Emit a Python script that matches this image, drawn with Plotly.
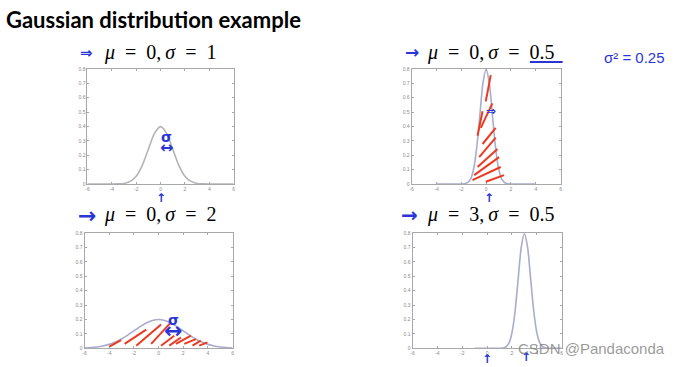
import plotly.graph_objects as go

W, H = 681, 367

# ---------------- data ----------------
x_p1 = [-6, -5.5, -5, -4.5, -4, -3.5, -3, -2.5, -2, -1.5, -1, -0.5, 0,
        0.5, 1, 1.5, 2, 2.5, 3, 3.5, 4, 4.5, 5, 5.5, 6]
y_p1 = [0, 0, 0, 0, 0.0001, 0.0009, 0.004, 0.018, 0.054, 0.13, 0.242, 0.352, 0.399,
        0.352, 0.242, 0.13, 0.054, 0.018, 0.004, 0.0009, 0.0001, 0, 0, 0, 0]

x_p2 = [-4, -3, -2.5, -2, -1.75, -1.5, -1.25, -1, -0.75, -0.5, -0.25, 0,
        0.25, 0.5, 0.75, 1, 1.25, 1.5, 1.75, 2, 2.5, 3, 4]
y_p2 = [0, 0, 0, 0.0001, 0.0018, 0.0089, 0.035, 0.108, 0.259, 0.484, 0.704, 0.798,
        0.704, 0.484, 0.259, 0.108, 0.035, 0.0089, 0.0018, 0.0001, 0, 0, 0]

x_p3 = [-6, -5.5, -5, -4.5, -4, -3.5, -3, -2.5, -2, -1.5, -1, -0.5, 0,
        0.5, 1, 1.5, 2, 2.5, 3, 3.5, 4, 4.5, 5, 5.5, 6]
y_p3 = [0.0022, 0.0045, 0.0088, 0.0159, 0.027, 0.043, 0.0648, 0.0913, 0.121, 0.1506, 0.176, 0.1933, 0.1995,
        0.1933, 0.176, 0.1506, 0.121, 0.0913, 0.0648, 0.043, 0.027, 0.0159, 0.0088, 0.0045, 0.0022]

x_p4 = [-1, 0, 0.5, 1, 1.25, 1.5, 1.75, 2, 2.25, 2.5, 2.75, 3,
        3.25, 3.5, 3.75, 4, 4.25, 4.5, 4.75, 5, 5.5, 6, 7]
y_p4 = [0, 0, 0, 0.0001, 0.0018, 0.0089, 0.035, 0.108, 0.259, 0.484, 0.704, 0.798,
        0.704, 0.484, 0.259, 0.108, 0.035, 0.0089, 0.0018, 0.0001, 0, 0, 0]

x_ticks = [-6, -4, -2, 0, 2, 4, 6]
y_ticks = [0, 0.1, 0.2, 0.3, 0.4, 0.5, 0.6, 0.7, 0.8]

titles = ["μ = 0, σ = 1", "μ = 0, σ = 0.5", "μ = 0, σ = 2", "μ = 3, σ = 0.5"]

# hand-drawn red hatching strokes (data units) for panels 2 and 3
hatch_p2 = [(-0.03, 0.574, 0.37, 0.757), (-0.43, 0.39, 0.5, 0.56), (-0.69, 0.335, -0.29, 0.506),
            (-0.29, 0.278, 0.77, 0.39), (-0.56, 0.187, 0.77, 0.323), (-0.69, 0.118, 0.91, 0.244),
            (-0.96, 0.062, 1.04, 0.187), (-1.1, 0.027, 1.17, 0.118), (-0.03, 0.016, 1.44, 0.062)]
hatch_p3 = [(-3.99, 0.012, -3.04, 0.057), (-2.75, 0.03, -1.0, 0.13), (-1.81, 0.018, 0.2, 0.166),
            (-0.6, 0.03, 1.0, 0.18), (0.2, 0.018, 1.27, 0.087), (0.87, 0.018, 1.81, 0.075),
            (1.41, 0.03, 2.62, 0.087), (2.08, 0.03, 3.02, 0.064), (2.75, 0.018, 3.42, 0.053),
            (3.29, 0.018, 3.96, 0.041)]

# ---------------- layout helpers ----------------
def px(x):
    return x / W

def py(y):
    return 1 - y / H

boxes = [(86, 233, 67, 184), (412, 562, 67, 184), (83, 232, 234, 351), (413, 563, 234, 351)]
curve_colors = ["#b4b4b8", "#a9accb", "#a9accb", "#a9accb"]
series = [(x_p1, y_p1), (x_p2, y_p2), (x_p3, y_p3), (x_p4, y_p4)]

fig = go.Figure()
layout = dict(width=W, height=H, margin=dict(l=0, r=0, t=0, b=0),
              paper_bgcolor="white", plot_bgcolor="white", showlegend=False)

for i, ((xs, ys), (x0, x1, y0, y1), col) in enumerate(zip(series, boxes, curve_colors)):
    n = "" if i == 0 else str(i + 1)
    fig.add_trace(go.Scatter(x=xs, y=ys, mode="lines", xaxis="x" + n, yaxis="y" + n,
                             line=dict(color=col, width=1.6, shape="spline", smoothing=0.8),
                             hoverinfo="skip"))
    axcommon = dict(showgrid=False, zeroline=False, showline=True, linecolor="#a8a8a8",
                    linewidth=1, mirror="ticks", ticks="inside", ticklen=2, tickcolor="#a8a8a8",
                    tickfont=dict(size=5, color="#8a8a8a", family="Liberation Sans"), fixedrange=True)
    layout["xaxis" + n] = dict(domain=[px(x0), px(x1)], range=[-6, 6], tickvals=x_ticks,
                               ticktext=[str(v) for v in x_ticks], anchor="y" + n, **axcommon)
    layout["yaxis" + n] = dict(domain=[py(y1), py(y0)], range=[0, 0.8], tickvals=y_ticks,
                               ticktext=["0" if v == 0 else f"{v:g}" for v in y_ticks],
                               anchor="x" + n, **axcommon)

shapes = []
for (a, b, c, d) in hatch_p2:
    shapes.append(dict(type="line", xref="x2", yref="y2", x0=a, y0=b, x1=c, y1=d,
                       line=dict(color="#ec3a22", width=2)))
for (a, b, c, d) in hatch_p3:
    shapes.append(dict(type="line", xref="x3", yref="y3", x0=a, y0=b, x1=c, y1=d,
                       line=dict(color="#ec3a22", width=2)))
# blue underline under 0.5
shapes.append(dict(type="line", xref="paper", yref="paper", x0=px(531), x1=px(564), y0=py(60), y1=py(60),
                   line=dict(color="#2a35d8", width=2)))
layout["shapes"] = shapes

ann = []
def txt(x, y, s, size, color="black", family="Liberation Serif", xanchor="left"):
    ann.append(dict(x=px(x), y=py(y), xref="paper", yref="paper", text=s, showarrow=False,
                    xanchor=xanchor, yanchor="middle", font=dict(size=size, color=color, family=family)))

txt(2, 17, "<b>Gaussian distribution example</b>", 22, family="Lato")

SP = "\u2002"
title_pos = [(101, 50), (426, 50), (101, 215), (426, 215)]
for (x, y), t in zip(title_pos, titles):
    s = t.replace(" = ", SP + "=" + SP).replace(", ", ",\u2009")
    s = s.replace("μ", "<i>μ</i>").replace("σ", "<i>σ</i>")
    txt(x, y, s, 20)

blue = "#2a35d8"
hand = "DejaVu Sans"
txt(85, 51, "<b>⇒</b>", 15, blue, hand, xanchor="center")
txt(412, 50, "<b>→</b>", 17, blue, hand, xanchor="center")
txt(85, 216, "<b>→</b>", 22, blue, hand, xanchor="center")
txt(410, 216, "<b>→</b>", 20, blue, hand, xanchor="center")
txt(636, 55, "σ² = 0.25", 15, blue, "Liberation Sans", xanchor="center")
txt(165, 136, "<b>σ</b>", 14, blue, hand, xanchor="center")
txt(165, 147, "<b>↔</b>", 16, blue, hand, xanchor="center")
txt(160, 198, "<b>↑</b>", 12, blue, hand, xanchor="center")
txt(492, 110, "<b>⇒</b>", 12, blue, hand, xanchor="center")
txt(490, 198, "<b>↑</b>", 12, blue, hand, xanchor="center")
txt(173, 322, "<b>σ</b>", 14, blue, hand, xanchor="center")
txt(172, 333, "<b>↔</b>", 22, blue, hand, xanchor="center")
txt(488, 362, "<b>↑</b>", 12, blue, hand, xanchor="center")
txt(527, 360, "<b>↑</b>", 12, blue, hand, xanchor="center")
txt(593, 351, "CSDN @Pandaconda", 15, "rgba(120,120,120,0.75)", "Liberation Sans", xanchor="center")
layout["annotations"] = ann

fig.update_layout(**layout)
fig.write_html("out.html", config={"displayModeBar": False},
               post_script="document.body.style.margin='0';document.body.style.overflow='hidden';")
